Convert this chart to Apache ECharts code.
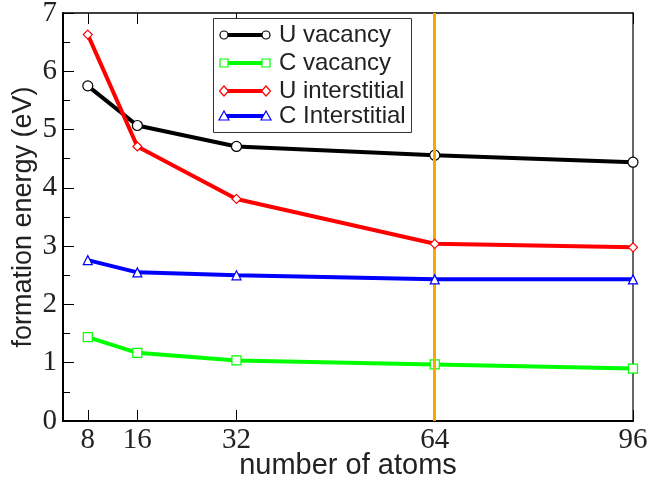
<!DOCTYPE html>
<html><head><meta charset="utf-8">
<script src="https://cdn.jsdelivr.net/npm/echarts@6/dist/echarts.min.js"></script>
<style>html,body{margin:0;padding:0;background:#fff}#c{width:648px;height:483px}</style>
</head><body><div id="c"></div>
<script>
const atoms = [8, 16, 32, 64, 96];
const xTicks = [8, 16, 32, 64, 96];
const uVacancy = [5.75, 5.07, 4.71, 4.56, 4.44];
const cVacancy = [1.44, 1.17, 1.04, 0.97, 0.90];
const uInterstitial = [6.63, 4.71, 3.81, 3.04, 2.98];
const cInterstitial = [2.76, 2.55, 2.50, 2.43, 2.43];
const seriesNames = ['U vacancy', 'C vacancy', 'U interstitial', 'C Interstitial'];
const seriesColors = ['#000000', '#00ff00', '#ff0000', '#0000ff'];
const seriesSymbols = ['circle', 'rect', 'diamond', 'triangle'];
const seriesData = [uVacancy, cVacancy, uInterstitial, cInterstitial];
const markerX = 64;

const chart = echarts.init(document.getElementById('c'));
const serif = 'Liberation Serif';
const sans = 'Liberation Sans';

const series = seriesData.map((vals, i) => ({
  name: seriesNames[i],
  type: 'line',
  xAxisIndex: 0, yAxisIndex: 0,
  data: atoms.map((a, j) => [a, vals[j]]),
  symbol: seriesSymbols[i],
  symbolSize: i === 0 ? 10 : 9,
  showAllSymbol: true,
  lineStyle: { color: seriesColors[i], width: 4 },
  itemStyle: { color: '#fff', borderColor: seriesColors[i], borderWidth: 1.2 },
  z: 3 + i,
  animation: false
}));
series.push({
  type: 'line', data: [], xAxisIndex: 0, yAxisIndex: 0,
  markLine: {
    silent: true, symbol: ['none', 'none'], label: { show: false },
    lineStyle: { color: '#ffa500', width: 3, type: 'solid' },
    data: [{ xAxis: markerX }]
  },
  z: 2, animation: false
});

const legendG = [{
  type: 'rect', left: 213, top: 18, z: 10,
  shape: { width: 198, height: 114 },
  style: { fill: '#fff', stroke: '#333', lineWidth: 1 }
}];
const ly = [35, 63, 91, 116];
seriesNames.forEach((n, i) => {
  const y = ly[i], c = seriesColors[i];
  legendG.push({ type: 'line', z: 11, shape: { x1: 224, y1: y, x2: 266, y2: y }, style: { stroke: c, lineWidth: 4 } });
  [224, 266].forEach(x => {
    let el;
    if (seriesSymbols[i] === 'circle') el = { type: 'circle', shape: { cx: x, cy: y, r: 4 } };
    else if (seriesSymbols[i] === 'rect') el = { type: 'rect', shape: { x: x - 4, y: y - 4, width: 8, height: 8 } };
    else if (seriesSymbols[i] === 'diamond') el = { type: 'polygon', shape: { points: [[x, y - 5], [x + 4.5, y], [x, y + 5], [x - 4.5, y]] } };
    else el = { type: 'polygon', shape: { points: [[x, y - 5], [x + 5, y + 4], [x - 5, y + 4]] } };
    el.z = 12; el.style = { fill: '#fff', stroke: c, lineWidth: 1.2 };
    legendG.push(el);
  });
  legendG.push({ type: 'text', z: 12, x: 279, y: y,
    style: { text: n, font: '24px "Liberation Sans"', fill: '#222', verticalAlign: 'middle', align: 'left' } });
});

chart.setOption({
  animation: false,
  backgroundColor: '#fff',
  grid: { left: 63, right: 15, top: 13, bottom: 62, containLabel: false, outerBoundsMode: 'none' },
  xAxis: [{
    type: 'value', min: 4, max: 96, position: 'bottom',
    name: 'number of atoms', nameLocation: 'middle', nameGap: 30, nameMoveOverlap: false,
    nameTextStyle: { fontFamily: sans, fontSize: 29, color: '#222' },
    axisLine: { show: true, onZero: false, lineStyle: { color: '#000', width: 2 } },
    axisTick: { show: true, inside: true, length: 11, customValues: xTicks, lineStyle: { color: '#000', width: 1 } },
    axisLabel: { customValues: xTicks, fontFamily: serif, fontSize: 29, color: '#222', margin: 5 },
    splitLine: { show: false }
  }, {
    type: 'value', min: 4, max: 96, position: 'top',
    axisLine: { show: true, onZero: false, lineStyle: { color: '#000', width: 1.5 } },
    axisTick: { show: true, inside: true, length: 11, customValues: xTicks, lineStyle: { color: '#000', width: 1 } },
    axisLabel: { show: false },
    splitLine: { show: false }
  }],
  yAxis: [{
    type: 'value', min: 0, max: 7, interval: 1, position: 'left',
    name: 'formation energy (eV)', nameLocation: 'middle', nameGap: 26, nameMoveOverlap: false,
    nameTextStyle: { fontFamily: sans, fontSize: 27, color: '#222' },
    axisLine: { show: true, onZero: false, lineStyle: { color: '#000', width: 2 } },
    axisTick: { show: true, inside: true, length: 11, lineStyle: { color: '#000', width: 1 } },
    minorTick: { show: true, splitNumber: 2, length: 7, lineStyle: { color: '#000', width: 1 } },
    axisLabel: { fontFamily: serif, fontSize: 29, color: '#222', margin: 6 },
    splitLine: { show: false }, minorSplitLine: { show: false }
  }, {
    type: 'value', min: 0, max: 7, interval: 1, position: 'right',
    axisLine: { show: true, onZero: false, lineStyle: { color: '#333', width: 1.5 } },
    axisTick: { show: false }, axisLabel: { show: false }, splitLine: { show: false }
  }],
  series: series,
  graphic: legendG
});
</script></body></html>
